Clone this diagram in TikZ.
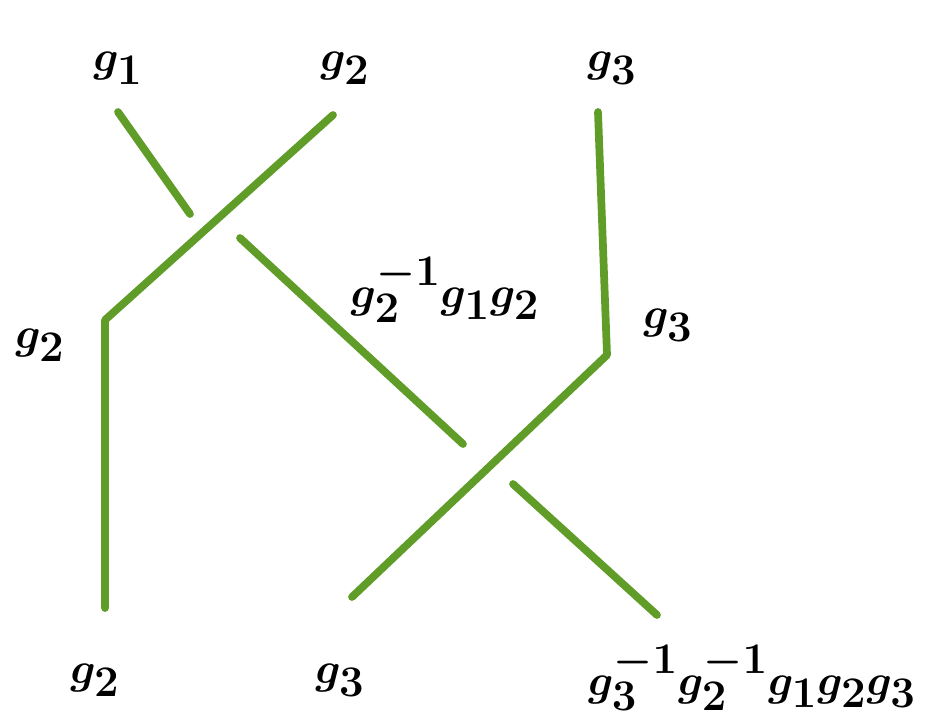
\documentclass[tikz,border=0pt]{standalone}
\usepackage{xcolor}
\definecolor{strandgreen}{RGB}{96,156,40}
\begin{document}
\begin{tikzpicture}[
    x=0.02cm, y=-0.02cm,
    strand/.style={line width=4.4pt, strandgreen, line cap=round, line join=round},
    lbl/.style={inner sep=0pt, font=\fontsize{39}{44}\selectfont\boldmath},
]
\useasboundingbox (0,0) rectangle (942,724);
% strand ends and bends
\coordinate (sa1) at (118,112);
\coordinate (sa2) at (190,214);
\coordinate (sa3) at (240,238);
\coordinate (sa4) at (463,444);
\coordinate (sa5) at (513,484);
\coordinate (sa6) at (657,615);
\coordinate (sb1) at (333,115);
\coordinate (sb2) at (105,320);
\coordinate (sb3) at (105,608);
\coordinate (sc1) at (598,112);
\coordinate (sc2) at (607,355);
\coordinate (sc3) at (352,597);
% labels
\node[lbl] (top1) at (118,68) {$g_1$};
\node[lbl] (top2) at (345,68) {$g_2$};
\node[lbl] (top3) at (612,68) {$g_3$};
\node[lbl] (mid2) at (40,345) {$g_2$};
\node[lbl] (mid12) at (445,290) {$g_2^{-1}g_1g_2$};
\node[lbl] (mid3) at (668,325) {$g_3$};
\node[lbl] (bot2) at (95,680) {$g_2$};
\node[lbl] (bot3) at (340,680) {$g_3$};
\node[lbl] (bot123) at (752,678) {$g_3^{-1}g_2^{-1}g_1g_2g_3$};
% braid
\draw[strand] (sa1) -- (sa2);
\draw[strand] (sa3) -- (sa4);
\draw[strand] (sa5) -- (sa6);
\draw[strand] (sb1) -- (sb2) -- (sb3);
\draw[strand] (sc1) -- (sc2) -- (sc3);
\end{tikzpicture}
\end{document}
